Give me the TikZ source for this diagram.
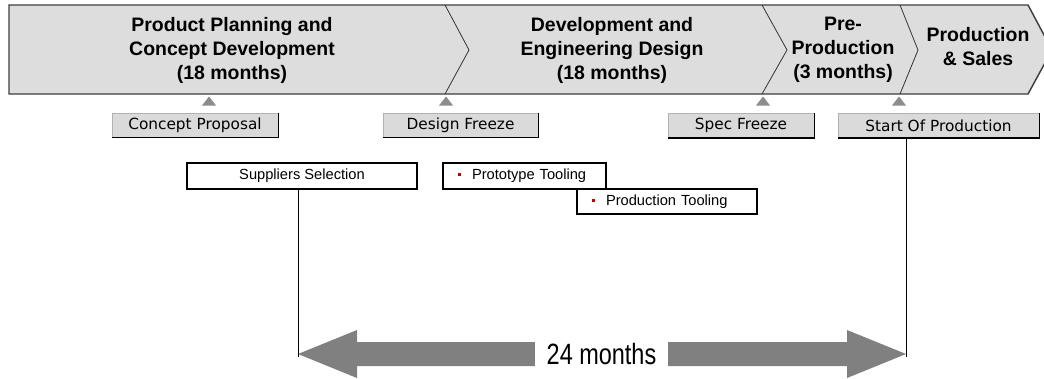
\documentclass[tikz,border=0pt]{standalone}
\usepackage{fontspec}
\setmainfont{Liberation Sans}
\newfontfamily\btnfont{DejaVu Sans}
\newfontfamily\spanfont[FakeStretch=0.8]{Liberation Sans}

\definecolor{bannergray}{RGB}{221,221,221}
\definecolor{btngray}{RGB}{218,218,218}
\definecolor{markgray}{RGB}{140,140,140}
\definecolor{spangray}{RGB}{128,128,128}
\definecolor{bulletred}{RGB}{192,0,0}

\newcommand{\sqbullet}{\textcolor{bulletred}{\rule[2.8pt]{2.25pt}{2.25pt}}}

\begin{document}
\begin{tikzpicture}[x=0.75pt, y=-0.75pt,
    banner/.style={fill=bannergray, draw=black!75, line width=1.1pt, line join=miter},
    seam/.style={draw=black!80, line width=0.6pt},
    phase/.style={align=center, inner sep=0pt, font=\fontsize{14.6}{18}\selectfont\bfseries},
    marker/.style={fill=markgray},
    milestone/.style={fill=btngray, draw=black!30, line width=0.5pt, minimum height=18pt, inner sep=0pt,
        font=\btnfont\fontsize{11.5}{13}\selectfont},
    btnshadow/.style={draw=black, line width=1.1pt},
    task/.style={fill=white, draw=black, line width=0.8pt, minimum height=19.5pt, inner sep=0pt,
        font=\fontsize{11}{13}\selectfont},
    lead/.style={draw=black, line width=0.75pt},
    span/.style={fill=spangray},
    gaplabel/.style={fill=white, inner sep=0pt, minimum width=99.75pt, minimum height=20.25pt,
        font=\spanfont\fontsize{22}{26}\selectfont}]

    \clip (0,0) rectangle (1044,378);
    \fill[white] (0,0) rectangle (1044,378);

    % phase banner
    \draw[banner] (9,5) -- (1028,5) -- (1052,50) -- (1028,94) -- (9,94) -- cycle;
    \draw[seam] (445,5) -- (469,50) -- (445,94);
    \draw[seam] (762,5) -- (787,50) -- (762,94);
    \draw[seam] (900,5) -- (918,50) -- (900,94);

    \node[phase] (plan)  at (232,50) {Product Planning and\\Concept Development\\(18 months)};
    \node[phase] (eng)   at (612,50) {Development and\\Engineering Design\\(18 months)};
    \node[phase] (pre)   at (843,50) {Pre-\\Production\\(3 months)};
    \node[phase] (sales) at (978,47) {Production\\\& Sales};

    % gates
    \foreach \x in {209,446,763,899}
        \fill[marker] (\x-7,105.5) -- (\x,96.5) -- (\x+7,105.5) -- cycle;

    \node[milestone, minimum width=124.5pt]  (cp)  at (195,125)   {Concept Proposal};
    \node[milestone, minimum width=116.25pt] (df)  at (460.5,125) {Design Freeze};
    \node[milestone, minimum width=109.5pt]  (sf)  at (741,125.5) {Spec Freeze};
    \node[milestone, minimum width=150.75pt] (sop) at (938.5,125.5) {Start Of Production};
    \foreach \m in {cp,df,sf,sop}
        \draw[btnshadow] (\m.north east) -- (\m.south east) -- (\m.south west);

    % activities
    \node[task, minimum width=172.5pt] (sup) at (302,176) {Suppliers Selection};
    \node[task, text width=122.25pt, align=left] (proto) at (524.5,176)
        {\hspace*{10.9pt}\sqbullet\hspace{8.6pt}Prototype Tooling};
    \node[task, text width=135pt, align=left, minimum height=18.75pt] (prod) at (667,201.5)
        {\hspace*{10.9pt}\sqbullet\hspace{8.6pt}Production Tooling};

    % lead time arrow
    \coordinate (lft) at (298,354);
    \coordinate (rgt) at (906,354);
    \fill[span] (lft) -- ++(59,-24) -- ++(0,12) -- ++(490,0) -- ++(0,-12) -- (rgt)
        -- ++(-59,24) -- ++(0,-12) -- ++(-490,0) -- ++(0,12) -- cycle;
    \node[gaplabel] (lead) at (601.5,354) {24 months};

    \draw[lead] (sup.south -| lft) -- ([yshift=-2.25pt]lft);
    \draw[lead] (sop.south -| rgt) -- ([yshift=-2.25pt]rgt);
\end{tikzpicture}
\end{document}
